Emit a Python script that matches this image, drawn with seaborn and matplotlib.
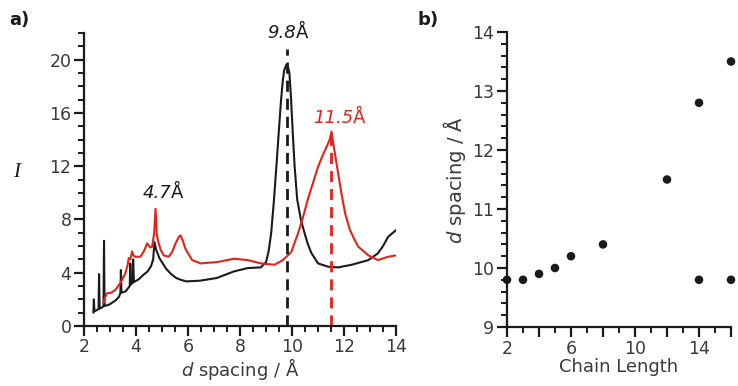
import matplotlib
matplotlib.use("Agg")
import matplotlib.pyplot as plt
import seaborn as sns
import pandas as pd
from matplotlib.ticker import MultipleLocator, FixedLocator

# panel a: black trace
black_d = [2.36, 2.38, 2.40, 2.50, 2.56, 2.58, 2.60, 2.70, 2.75, 2.77, 2.79, 2.96, 3.20, 3.35,
           3.40, 3.42, 3.44, 3.60, 3.68, 3.76, 3.78, 3.80, 3.84, 3.87, 3.89, 3.92, 4.10, 4.26,
           4.45, 4.58, 4.66, 4.71, 4.78, 4.90, 5.16, 5.35, 5.55, 5.75, 5.94, 6.45, 7.10, 7.77,
           8.30, 8.80, 9.00, 9.10, 9.20, 9.30, 9.40, 9.50, 9.58, 9.65, 9.70, 9.78, 9.84, 9.90,
           9.96, 10.03, 10.10, 10.20, 10.35, 10.48, 10.60, 10.74, 11.00, 11.39, 11.78, 12.30,
           12.94, 13.30, 13.50, 13.70, 14.00]
black_i = [1.0, 2.0, 1.1, 1.2, 1.3, 3.9, 1.3, 1.4, 1.5, 6.4, 1.5, 1.6, 1.9, 2.2,
           2.5, 4.2, 2.5, 2.6, 2.8, 3.0, 4.7, 3.1, 3.3, 3.2, 5.0, 3.3, 3.5, 3.8,
           4.1, 4.5, 5.0, 6.3, 5.7, 5.1, 4.3, 3.9, 3.6, 3.45, 3.35, 3.4, 3.6, 4.1,
           4.35, 4.4, 4.8, 5.6, 7.0, 9.3, 12.0, 14.8, 17.0, 18.5, 19.2, 19.6, 19.5, 19.0,
           17.2, 14.5, 12.0, 9.5, 7.9, 7.0, 6.2, 5.5, 4.7, 4.45, 4.4, 4.6,
           4.95, 5.45, 6.0, 6.7, 7.2]

# panel a: red trace
red_d = [2.74, 2.87, 3.05, 3.20, 3.39, 3.59, 3.68, 3.72, 3.78, 3.85, 3.90, 3.97, 4.17, 4.30,
         4.43, 4.55, 4.62, 4.70, 4.75, 4.80, 4.84, 4.95, 5.07, 5.26, 5.40, 5.52, 5.65, 5.71,
         5.80, 5.90, 6.05, 6.16, 6.48, 7.13, 7.77, 8.30, 8.80, 9.33, 9.65, 9.97, 10.23, 10.40,
         10.60, 10.80, 11.00, 11.20, 11.33, 11.45, 11.52, 11.58, 11.65, 11.78, 11.90, 12.05,
         12.23, 12.40, 12.55, 12.94, 13.30, 13.70, 14.00]
red_i = [1.7, 2.45, 2.5, 2.7, 3.2, 3.95, 4.6, 5.1, 5.0, 5.6, 5.3, 5.2, 5.2, 5.6,
         6.2, 5.9, 5.95, 7.0, 8.8, 6.9, 6.45, 5.7, 5.3, 5.2, 5.6, 6.2, 6.7, 6.8,
         6.4, 5.8, 5.3, 4.95, 4.7, 4.8, 5.05, 4.95, 4.7, 4.6, 4.95, 5.55, 6.95, 8.0,
         9.45, 10.7, 11.95, 12.9, 13.45, 14.0, 14.6, 13.8, 12.95, 11.4, 9.95, 8.4,
         7.2, 6.5, 5.95, 5.3, 4.95, 5.2, 5.3]

# panel b: peak positions vs chain length
chain = [2, 3, 4, 5, 6, 8, 12, 14, 14, 16, 16]
spacing = [9.8, 9.8, 9.9, 10.0, 10.2, 10.4, 11.5, 12.8, 9.8, 13.5, 9.8]
chain_ticks = [2, 4, 6, 8, 10, 12, 14, 16]
chain_labels = ["2", "", "6", "", "10", "", "14", ""]

RED = "#e2231a"
INK = "#1a1a1a"
GREY = "#3a3a3a"

sns.set_style("ticks")
plt.rcParams["font.family"] = ["DejaVu Sans"]
plt.rcParams["mathtext.fontset"] = "dejavusans"

fig = plt.figure(figsize=(7.38, 3.86), dpi=100)
ax1 = fig.add_axes([84 / 738, 60 / 386, 312 / 738, 293 / 386])
ax2 = fig.add_axes([507 / 738, 59 / 386, 224 / 738, 295 / 386])

df_a = pd.concat([
    pd.DataFrame({"d": black_d, "I": black_i, "sample": "black"}),
    pd.DataFrame({"d": red_d, "I": red_i, "sample": "red"}),
])
sns.lineplot(data=df_a, x="d", y="I", hue="sample", palette={"black": INK, "red": RED},
             sort=False, estimator=None, linewidth=1.5, legend=False, ax=ax1)
ax1.plot([9.8, 9.8], [0, 20.8], color=INK, lw=2, ls=(0, (4, 2.5)))
ax1.plot([11.5, 11.5], [0, 14.6], color=RED, lw=2, ls=(0, (4, 2.5)))

ax1.set_xlim(2, 14)
ax1.set_ylim(0, 22)
ax1.xaxis.set_major_locator(MultipleLocator(2))
ax1.xaxis.set_minor_locator(MultipleLocator(0.5))
ax1.yaxis.set_major_locator(FixedLocator([0, 4, 8, 12, 16, 20]))
ax1.yaxis.set_minor_locator(MultipleLocator(1))
ax1.set_xlabel(r"$\mathit{d}$ spacing / Å", fontsize=13, color=GREY, labelpad=0)
ax1.set_ylabel("I", fontsize=15, family="Liberation Serif", style="italic",
               rotation=0, color=INK)
ax1.yaxis.set_label_coords(-0.215, 0.49)


def peak_label(x, y, num, color):
    # italic number followed by an upright Å
    ax1.text(x, y, num, ha="right", va="center", fontsize=13, style="italic", color=color)
    ax1.text(x, y, "Å", ha="left", va="center", fontsize=13, color=color)


peak_label(10.15, 22.0, "9.8", INK)
peak_label(12.35, 15.6, "11.5", RED)
peak_label(5.35, 10.0, "4.7", INK)

sns.scatterplot(x=chain, y=spacing, color=INK, s=38, edgecolor="none", ax=ax2, clip_on=False)
ax2.set_xlim(2, 16)
ax2.set_ylim(9, 14)
ax2.xaxis.set_major_locator(FixedLocator(chain_ticks))
ax2.xaxis.set_minor_locator(MultipleLocator(1))
ax2.set_xticklabels(chain_labels)
ax2.yaxis.set_major_locator(MultipleLocator(1))
ax2.yaxis.set_minor_locator(MultipleLocator(0.2))
ax2.set_xlabel("Chain Length", fontsize=13, color=GREY, labelpad=0)
ax2.set_ylabel(r"$\mathit{d}$ spacing / Å", fontsize=14, color=GREY, labelpad=3)

for ax in (ax1, ax2):
    sns.despine(ax=ax)
    for side in ("left", "bottom"):
        ax.spines[side].set_linewidth(1.6)
        ax.spines[side].set_color(INK)
    ax.tick_params(which="major", direction="out", length=7, width=1.6, color=INK,
                   labelsize=12.5, labelcolor=GREY, pad=2)
    ax.tick_params(which="minor", direction="out", length=4, width=1.4, color=INK)

fig.text(0.012, 0.935, "a)", fontsize=13, fontweight="bold", color=INK)
fig.text(0.566, 0.935, "b)", fontsize=13, fontweight="bold", color=INK)

fig.savefig("out.png", dpi=100)
